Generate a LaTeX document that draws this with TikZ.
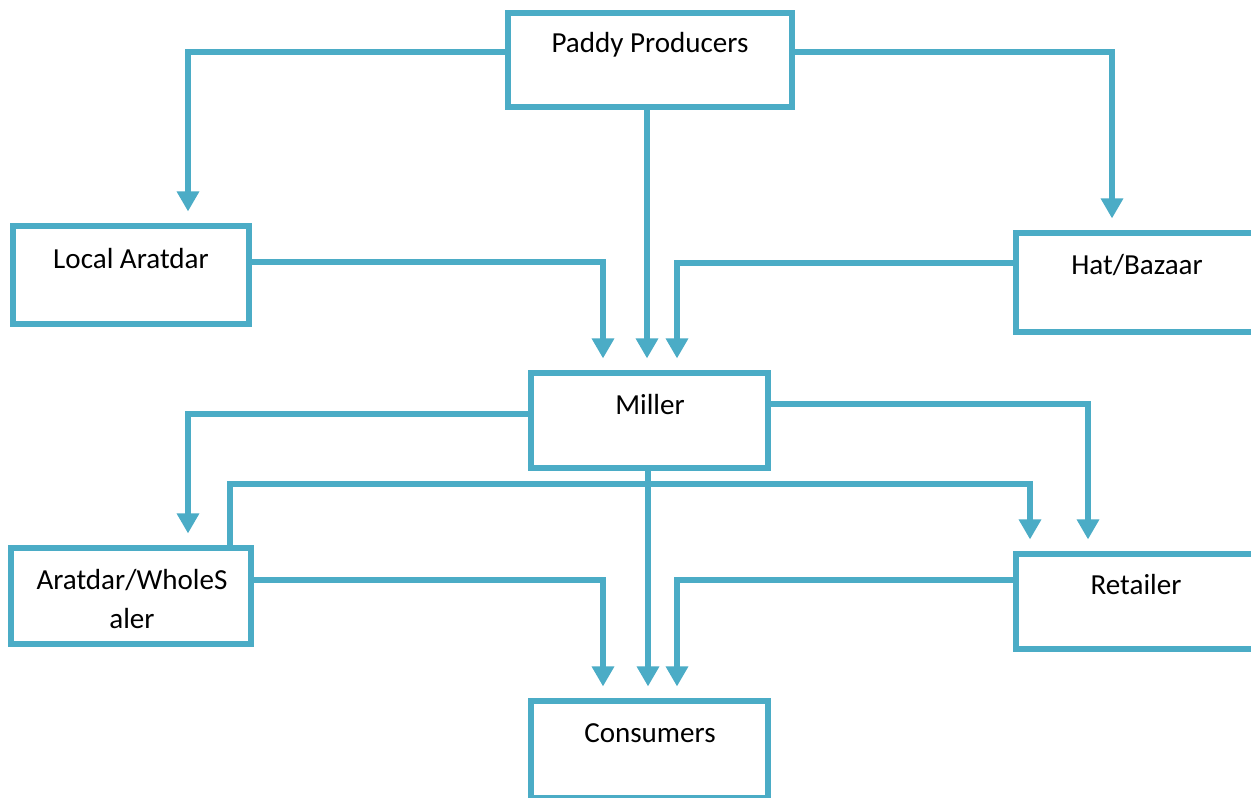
\documentclass[tikz,border=0pt]{standalone}
\usepackage{fontspec}
\setmainfont{Carlito}
\usetikzlibrary{arrows.meta}
\definecolor{acc}{HTML}{4BACC6}
\begin{document}
\begin{tikzpicture}[x=0.75pt,y=-0.75pt,
  box/.style={draw=acc,line width=4.8pt,rectangle,inner sep=0pt},
  lbl/.style={anchor=base,inner sep=0pt,font=\fontsize{21.8}{29.25}\selectfont,align=center},
  conn/.style={draw=acc,line width=4pt,-{Triangle[width=16pt,length=15pt]},shorten >=8.5pt}]
\useasboundingbox (0,0) rectangle (1251,798);
\clip (0,0) rectangle (1251,798);
\fill[white] (0,0) rectangle (1251,798);
% boxes
\node[box,minimum width=213pt,minimum height=70.5pt] (pp) at (650,60) {};
\node[box,minimum width=177pt,minimum height=73.5pt] (la) at (131,275) {};
\node[box,minimum width=181.5pt,minimum height=74.25pt] (hb) at (1137,282.5) {};
\node[box,minimum width=177.75pt,minimum height=71.25pt] (mi) at (649.5,420.5) {};
\node[box,minimum width=180pt,minimum height=72pt] (aw) at (131,596) {};
\node[box,minimum width=181.5pt,minimum height=71.25pt] (re) at (1137,601.5) {};
\node[box,minimum width=177.75pt,minimum height=72.75pt] (co) at (649.5,749.5) {};
% labels
\node[lbl] (tpp) at (650,53) {Paddy Producers};
\node[lbl] (tla) at (131,269) {Local Aratdar};
\node[lbl] (thb) at (1137,275) {Hat/Bazaar};
\node[lbl] (tmi) at (650,414) {Miller};
\node[lbl] (taw) at (132,628) {Aratdar/WholeS\\aler};
\node[lbl] (tre) at (1136,594) {Retailer};
\node[lbl] (tco) at (650,742) {Consumers};
% connectors
\draw[conn] (pp.west |- 0,52) -| (188,0 |- la.north);
\draw[conn] (pp.east |- 0,52) -| (1112,0 |- hb.north);
\draw[conn] (647,0 |- pp.south) -- (647,0 |- mi.north);
\draw[conn] (la.east |- 0,262) -| (603,0 |- mi.north);
\draw[conn] (hb.west |- 0,263) -| (677,0 |- mi.north);
\draw[conn] (mi.west |- 0,414) -| (188,0 |- aw.north);
\draw[conn] (mi.east |- 0,404) -| (1088,0 |- re.north);
\draw[conn] (230,0 |- aw.north) -- (230,484) -- (1030,484) -- (1030,0 |- re.north);
\draw[conn] (648,0 |- mi.south) -- (648,0 |- co.north);
\draw[conn] (aw.east |- 0,580) -| (603,0 |- co.north);
\draw[conn] (re.west |- 0,580) -| (677,0 |- co.north);
\end{tikzpicture}
\end{document}
